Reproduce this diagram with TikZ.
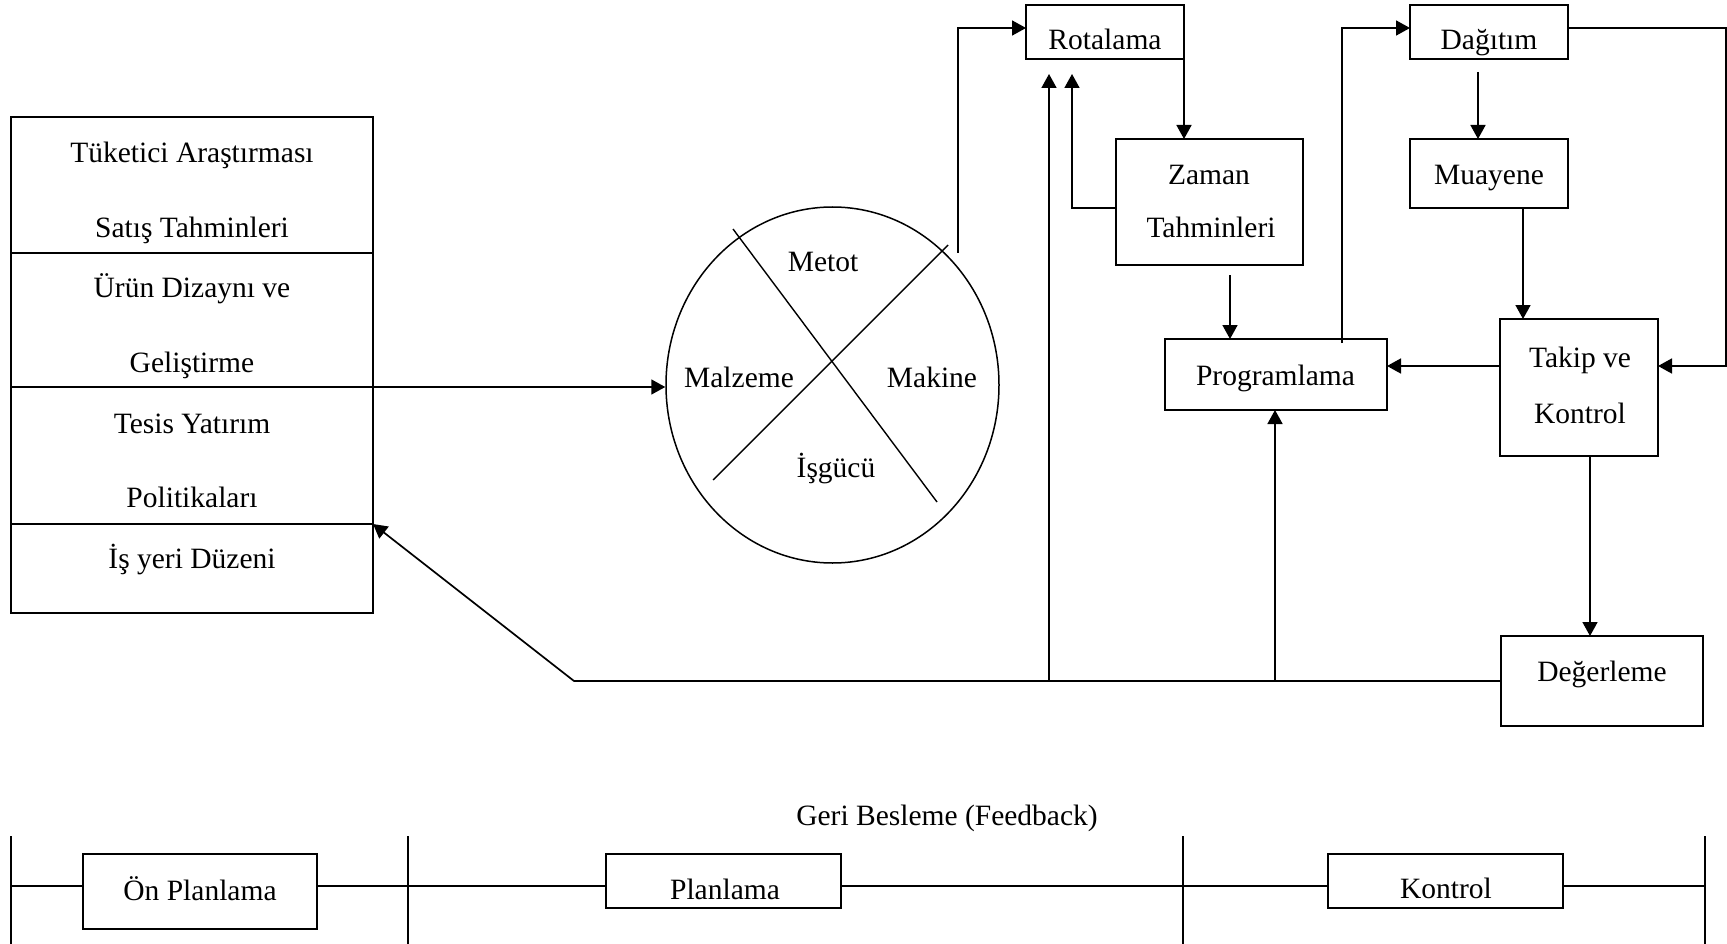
\documentclass[tikz,border=0pt]{standalone}
\usepackage{fontspec}
\setmainfont{Liberation Serif}
\usetikzlibrary{arrows.meta,shapes.geometric}
\begin{document}
\begin{tikzpicture}[x=1pt,y=-1pt,
  box/.style={draw, line width=1.8pt, inner sep=0pt, outer sep=0pt},
  lbl/.style={anchor=base, inner sep=0pt, font=\fontsize{29.5}{32}\selectfont},
  conn/.style={line width=1.7pt},
  thin/.style={line width=1.4pt},
  arr/.style={conn, -{Triangle[length=14pt,width=15pt]}},
]
\useasboundingbox (0,0) rectangle (1727,944);

% ---- left column of planning inputs
\node[box, minimum width=362, minimum height=136] (lb1) at (192,185) {};
\node[box, minimum width=362, minimum height=134] (lb2) at (192,320) {};
\node[box, minimum width=362, minimum height=137] (lb3) at (192,455.5) {};
\node[box, minimum width=362, minimum height=89]  (lb4) at (192,568.5) {};
\node[lbl] (t1) at (192,163) {Tüketici Araştırması};
\node[lbl] (t2) at (192,237) {Satış Tahminleri};
\node[lbl] (t3) at (192,297) {Ürün Dizaynı ve};
\node[lbl] (t4) at (192,372) {Geliştirme};
\node[lbl] (t5) at (192,433) {Tesis Yatırım};
\node[lbl] (t6) at (192,507) {Politikaları};
\node[lbl] (t7) at (192,568) {İş yeri Düzeni};

% ---- resources wheel
\node[draw, ellipse, line width=1.5pt, minimum width=333, minimum height=356, inner sep=0pt] (wheel) at (832.5,385) {};
\draw[thin] (733,229) -- (937,502);
\draw[thin] (948,245) -- (713,480);
\node[lbl] (w1) at (823,271) {Metot};
\node[lbl] (w2) at (739,387) {Malzeme};
\node[lbl] (w3) at (932,387) {Makine};
\node[lbl] (w4) at (836,477) {İşgücü};

% ---- process boxes
\node[box, minimum width=158, minimum height=54]  (rot)  at (1105,32) {};
\node[box, minimum width=187, minimum height=126] (zam)  at (1209.5,202) {};
\node[box, minimum width=222, minimum height=71]  (prog) at (1276,374.5) {};
\node[box, minimum width=158, minimum height=54]  (dag)  at (1489,32) {};
\node[box, minimum width=158, minimum height=69]  (mua)  at (1489,173.5) {};
\node[box, minimum width=158, minimum height=137] (tak)  at (1579,387.5) {};
\node[box, minimum width=202, minimum height=90]  (deg)  at (1602,681) {};

\node[lbl] (r1) at (1105,50) {Rotalama};
\node[lbl] (z1) at (1209,185) {Zaman};
\node[lbl] (z2) at (1211,238) {Tahminleri};
\node[lbl] (p1) at (1275.5,385) {Programlama};
\node[lbl] (d1) at (1489,50) {Dağıtım};
\node[lbl] (m1) at (1489,185) {Muayene};
\node[lbl] (k1) at (1580,367) {Takip ve};
\node[lbl] (k2) at (1580,423) {Kontrol};
\node[lbl] (e1) at (1602,681) {Değerleme};

% ---- connector end points
\coordinate (wtop)  at (958,253);
\coordinate (rotin) at (1026,28);
\coordinate (zout)  at (1116,208);
\coordinate (zturn) at (1072,208);
\coordinate (rtip1) at (1072,74);
\coordinate (rtip2) at (1049,74);
\coordinate (zbot)  at (1230,275);
\coordinate (pup)   at (1342,343);
\coordinate (dagin) at (1410,28);
\coordinate (dbot)  at (1478,72);
\coordinate (dout)  at (1568,28);
\coordinate (rside) at (1726,28);
\coordinate (tin)   at (1658,366);
\coordinate (tout)  at (1500,366);
\coordinate (fbend) at (574,681);
\coordinate (fb1)   at (1049,681);
\coordinate (fb2)   at (1275,681);

% ---- connectors
\draw[arr] (lb2.south east) -- (lb2.south east -| wheel.west);
\draw[arr] (wtop) |- (rotin);
\draw[arr] (rot.south east) -- (rot.south east |- zam.north);
\draw[arr] (zout) -- (zturn) -- (rtip1);
\draw[arr] (zbot) -- (zbot |- prog.north);
\draw[arr] (pup) |- (dagin);
\draw[arr] (dbot) -- (dbot |- mua.north);
\draw[arr] (mua.south -| 1523,0) -- (tak.north -| 1523,0);
\draw[arr] (tout) -- (tout -| prog.east);
\draw[arr] (dout) -- (rside) -- (rside |- tin) -- (tin);
\draw[arr] (tak.south -| 1590,0) -- (deg.north -| 1590,0);
\draw[arr] (deg.west) -- (fbend) -- (lb4.north east);
\draw[arr] (fb1) -- (rtip2);
\draw[arr] (fb2) -- (fb2 |- prog.south);

% ---- phase strip
\node[lbl] (fbt) at (947,825) {Geri Besleme (Feedback)};
\node[box, minimum width=234, minimum height=75] (onp)  at (200,891.5) {};
\node[box, minimum width=235, minimum height=54] (plan) at (723.5,881) {};
\node[box, minimum width=235, minimum height=54] (kon)  at (1445.5,881) {};
\node[lbl] (o1) at (200,900) {Ön Planlama};
\node[lbl] (o2) at (725,899) {Planlama};
\node[lbl] (o3) at (1446,898) {Kontrol};

\coordinate (s0) at (11,886);
\coordinate (s3) at (1705,886);
\foreach \x in {11,408,1183,1705} \draw[thin] (\x,836) -- (\x,944);
\draw[conn] (s0) -- (s0 -| onp.west);
\draw[conn] (s0 -| onp.east) -- (s0 -| plan.west);
\draw[conn] (s0 -| plan.east) -- (s0 -| kon.west);
\draw[conn] (s0 -| kon.east) -- (s3);
\end{tikzpicture}
\end{document}
